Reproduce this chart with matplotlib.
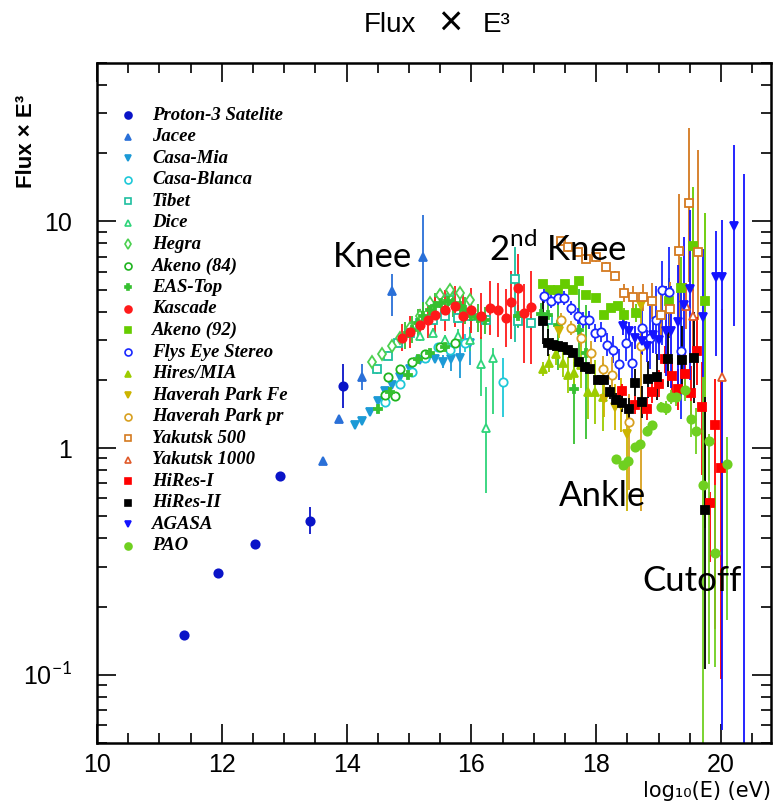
import numpy as np
import matplotlib
matplotlib.use("Agg")
import matplotlib.pyplot as plt
from matplotlib.ticker import FixedLocator, FixedFormatter, NullFormatter, MultipleLocator

plt.rcParams["font.family"] = ["Liberation Sans", "DejaVu Sans"]
plt.rcParams["mathtext.fontset"] = "custom"
plt.rcParams["mathtext.rm"] = "Lato"

# log10(E/eV), flux x E^3 (arbitrary units), error bars in decades: v or (down, up)
proton3_x = [11.39, 11.94, 12.53, 12.94, 13.41, 13.94]
proton3_y = [0.150, 0.282, 0.378, 0.757, 0.479, 1.87]
proton3_err = [0.01, 0.01, 0.01, 0.01, 0.06, (0.095, 0.10)]

jacee_x = [13.62, 13.87, 14.24, 14.72, 15.22]
jacee_y = [0.877, 1.34, 2.06, 4.91, 6.97]
jacee_err = [0.01, 0.01, 0.057, (0.109, 0.078), (0.313, 0.187)]

casamia_x = [14.13, 14.24, 14.37, 14.50, 14.61, 14.72, 14.85, 15.01, 15.17, 15.30,
             15.42, 15.55, 15.68, 15.81, 15.97]
casamia_y = [1.27, 1.32, 1.45, 1.62, 1.79, 1.90, 2.06, 2.23, 2.44, 2.51,
             2.46, 2.41, 2.46, 2.51, 2.92]
casamia_err = [0.015] * 11 + [0.03, (0.05, 0.04), (0.09, 0.08), (0.1, 0.07)]

casablanca_x = [14.61, 14.85, 15.04, 15.25, 15.46, 15.65, 15.89, 16.50]
casablanca_y = [1.60, 1.92, 2.16, 2.51, 2.78, 2.72, 2.92, 1.95]
casablanca_err = [0.015, 0.015, 0.015, 0.02, 0.02, 0.03, 0.04, (0.152, 0.109)]

tibet_x = [14.48, 14.66, 14.82, 15.01, 15.17, 15.38, 15.57, 15.78, 16.00, 16.24,
           16.69, 16.74, 16.96, 17.22]
tibet_y = [2.23, 2.56, 2.92, 3.23, 3.57, 3.68, 3.83, 3.75, 3.83, 3.68,
           5.60, 3.64, 3.55, 3.67]
tibet_err = [0.02] * 10 + [(0.28, 0.14), 0.03, 0.03, 0.03]

dice_x = [15.17, 15.38, 15.49, 15.57, 15.65, 15.78, 15.97, 16.16, 16.24, 16.34]
dice_y = [3.13, 3.23, 4.82, 3.00, 4.90, 3.13, 3.00, 2.34, 1.23, 2.51]
dice_err = [0.02, 0.02, 0.02, 0.02, 0.02, 0.03, 0.05, (0.14, 0.12), (0.29, 0.18), (0.25, 0.04)]

hegra_x = [14.40, 14.56, 14.72, 14.85, 15.01, 15.17, 15.33, 15.49, 15.65, 15.81, 15.97]
hegra_y = [2.39, 2.59, 2.83, 3.07, 3.39, 3.83, 4.36, 4.72, 4.96, 4.82, 4.49]
hegra_err = [0.02] * 11

akeno84_x = [14.61, 14.77, 14.66, 14.85, 15.04, 15.25, 15.49, 15.73]
akeno84_y = [1.72, 1.69, 2.06, 2.23, 2.39, 2.59, 2.78, 2.92]
akeno84_err = [0.015] * 8

eastop_x = [14.51, 14.69, 14.98, 15.14, 15.33, 15.57,
            14.93, 15.04, 15.14, 15.23, 15.33, 15.42, 15.52, 15.62, 15.71, 15.81,
            15.90, 16.00, 16.10, 16.22,
            16.74, 17.12, 17.22, 17.38, 17.65, 17.73, 17.84]
eastop_y = [1.49, 1.77, 2.10, 2.46, 2.64, 2.78,
            3.13, 3.33, 3.57, 3.83, 4.06, 4.23, 4.36, 4.45, 4.36, 4.23,
            4.06, 3.83, 3.75, 3.67,
            3.83, 3.90, 3.86, 3.49, 1.82, 3.33, 2.64]
eastop_err = ([0.015] * 6 + [0.06] * 14
              + [0.05, 0.05, 0.1, (0.2, 0.1), (0.24, 0.12), (0.17, 0.18), (0.38, 0.21)])

kascade_x = [14.88, 15.01, 15.17, 15.30, 15.42, 15.57, 15.73, 15.86, 16.00, 16.16,
             16.29, 16.43, 16.56, 16.64, 16.75, 16.85, 16.96]
kascade_y = [3.07, 3.26, 3.49, 3.67, 3.86, 4.06, 4.23, 3.83, 4.06, 3.83,
             4.14, 4.06, 3.75, 4.40, 5.11, 3.94, 4.19]
kascade_err = [0.06, 0.07, 0.07, 0.08, 0.08, 0.09, 0.09, 0.1, 0.1, 0.1,
               0.12, 0.12, 0.13, (0.16, 0.14), 0.15, (0.22, 0.13), (0.25, 0.16)]

akeno92_x = [17.14, 17.26, 17.38, 17.50, 17.62, 17.73, 17.84, 18.00, 18.13, 18.24,
             18.35, 18.45, 18.64, 19.17, 19.36, 19.55, 19.74]
akeno92_y = [5.32, 4.96, 4.96, 5.32, 4.96, 5.48, 4.72, 4.60, 3.86, 4.14,
             4.23, 3.86, 3.94, 4.45, 5.06, 7.78, 4.45]
akeno92_err = [0.015] * 11 + [0.03, 0.04, 0.1, (0.17, 0.14), (0.2, 0.26), (1.0, 0.39)]

flyseye_x = [17.17, 17.28, 17.38, 17.49, 17.60, 17.70, 17.79, 17.89, 17.98, 18.08,
             18.18, 18.27, 18.37, 18.48, 18.58, 18.74, 18.86, 18.96, 19.06, 19.17, 19.36]
flyseye_y = [4.68, 4.45, 4.60, 4.60, 4.14, 3.83, 3.67, 3.67, 3.23, 3.26,
             2.86, 2.72, 2.34, 2.90, 2.38, 3.40, 3.07, 3.67, 4.96, 4.86, 2.69]
flyseye_err = [0.03, 0.03, 0.03, 0.03, 0.03, 0.035, 0.035, 0.04, 0.04, 0.045,
               0.05, 0.06, 0.07, 0.08, 0.09, 0.12, 0.14, 0.15, (0.24, 0.13), 0.2, 0.3]

hiresmia_x = [17.14, 17.25, 17.36, 17.46, 17.55, 17.65, 17.76, 17.87, 17.98, 18.10]
hiresmia_y = [2.23, 2.37, 2.61, 2.37, 2.10, 2.14, 2.32, 1.77, 1.77, 1.68]
hiresmia_err = [0.03, 0.04, 0.05, 0.06, 0.08, 0.08, 0.1, 0.12, 0.14, 0.15]

hpfe_x = [17.41, 18.13, 18.30, 18.40, 18.50, 18.72]
hpfe_y = [3.29, 1.65, 1.52, 1.55, 1.15, 4.27]
hpfe_err = [0.03, 0.08, 0.1, 0.12, (0.34, 0.11), (0.35, 0.06)]

hppr_x = [17.44, 17.60, 17.76, 17.92, 18.10, 18.26, 18.53, 18.72]
hppr_y = [3.67, 3.39, 3.07, 2.64, 2.23, 2.10, 1.31, 2.83]
hppr_err = [0.03, 0.03, 0.04, 0.05, 0.06, 0.08, (0.3, 0.12), (0.73, 0.07)]

yak500_x = [17.44, 17.55, 17.70, 17.84, 18.00, 18.16, 18.30, 18.45, 18.59, 18.75,
            18.90, 19.04, 19.18, 19.33, 19.49, 19.63]
yak500_y = [8.19, 7.71, 7.33, 6.84, 6.95, 6.31, 5.77, 4.82, 4.63, 4.63,
            4.45, 3.86, 4.10, 7.41, 12.1, 7.33]
yak500_err = [0.02] * 7 + [0.04, 0.05, 0.06, 0.08, 0.1, 0.12,
                           (0.3, 0.25), (0.35, 0.33), (0.3, 0.45)]

yak1000_x = [19.44, 19.55, 20.02]
yak1000_y = [4.23, 3.83, 2.06]
yak1000_err = [0.1, (0.15, 0.12), (0.9, 0.3)]

hires1_x = [18.42, 18.62, 18.82, 18.90, 19.01, 19.10, 19.22, 19.31, 19.42, 19.52,
            19.62, 19.70, 19.82, 19.90, 20.00]
hires1_y = [1.79, 1.55, 1.49, 1.77, 1.92, 2.46, 2.08, 1.82, 2.13, 1.75,
            2.69, 1.52, 0.571, 1.27, 0.818]
hires1_err = [0.03, 0.04, 0.05, 0.05, 0.06, 0.06, 0.08, 0.09, 0.1, 0.12,
              0.15, (0.3, 0.2), (0.26, 0.05), (0.9, 0.2), (0.93, 0.4)]

hires2_x = [17.14, 17.22, 17.30, 17.38, 17.46, 17.54, 17.62, 17.73, 17.82, 17.90,
            18.03, 18.13, 18.22, 18.32, 18.42, 18.53, 18.62, 18.74, 18.83, 18.98,
            19.15, 19.38, 19.57, 19.74]
hires2_y = [3.64, 2.92, 2.86, 2.83, 2.78, 2.70, 2.64, 2.39, 2.27, 2.23,
            2.00, 2.00, 1.77, 1.63, 1.58, 1.49, 1.94, 1.60, 2.01, 2.06,
            2.46, 2.44, 2.51, 0.532]
hires2_err = [0.1, 0.06, 0.03, 0.02, 0.02, 0.02, 0.02, 0.02, 0.02, 0.02,
              0.02, 0.02, 0.03, 0.03, 0.04, 0.05, 0.06, 0.07, 0.08, 0.1,
              0.12, 0.15, 0.2, (0.7, 0.5)]

agasa_x = [18.43, 18.53, 18.62, 18.74, 18.82, 18.91, 19.01, 19.12, 19.20, 19.31,
           19.41, 19.50, 19.71, 19.92, 20.02, 20.21, 20.36]
agasa_y = [3.46, 3.29, 3.07, 2.98, 2.83, 3.16, 3.00, 3.29, 3.29, 3.60,
           4.27, 5.01, 3.79, 5.71, 5.71, 9.50, 0.03]
agasa_err = [0.04, 0.04, 0.05, 0.06, 0.07, 0.08, 0.09, 0.2, (0.25, 0.2), (0.3, 0.25),
             (0.3, 0.3), (0.4, 0.35), (0.5, 0.3), (0.35, 0.2), (2.0, 0.25), (0.44, 0.36),
             (0.0, 2.73)]

pao_x = [18.32, 18.43, 18.51, 18.62, 18.70, 18.82, 18.90, 19.04, 19.12, 19.20,
         19.28, 19.42, 19.52, 19.60, 19.71, 19.81, 19.90, 20.10]
pao_y = [0.896, 0.843, 0.880, 1.01, 1.04, 1.19, 1.26, 1.52, 1.50, 1.68,
         1.68, 1.81, 1.34, 1.19, 0.684, 1.07, 0.343, 0.851]
pao_err = [0.01, 0.01, 0.01, 0.015, 0.015, 0.02, 0.02, 0.02, 0.03, 0.03,
           0.04, 0.05, 0.08, 0.1, (1.5, 0.48), (0.98, 0.035), (0.5, 0.3), (0.69, 0.12)]

series = [
    ("Proton-3 Satelite", proton3_x, proton3_y, proton3_err, "o", "#0a14c8", True),
    ("Jacee", jacee_x, jacee_y, jacee_err, "^", "#2a70d8", True),
    ("Casa-Mia", casamia_x, casamia_y, casamia_err, "v", "#1c9ad6", True),
    ("Casa-Blanca", casablanca_x, casablanca_y, casablanca_err, "o", "#1ec8d8", False),
    ("Tibet", tibet_x, tibet_y, tibet_err, "s", "#1ebfa0", False),
    ("Dice", dice_x, dice_y, dice_err, "^", "#2ed47a", False),
    ("Hegra", hegra_x, hegra_y, hegra_err, "d", "#4cd050", False),
    ("Akeno (84)", akeno84_x, akeno84_y, akeno84_err, "o", "#1fb41f", False),
    ("EAS-Top", eastop_x, eastop_y, eastop_err, "P", "#36c030", True),
    ("Kascade", kascade_x, kascade_y, kascade_err, "o", "#ff1a1a", True),
    ("Akeno (92)", akeno92_x, akeno92_y, akeno92_err, "s", "#66cc00", True),
    ("Flys Eye Stereo", flyseye_x, flyseye_y, flyseye_err, "o", "#1a28ff", False),
    ("Hires/MIA", hiresmia_x, hiresmia_y, hiresmia_err, "^", "#9ccc00", True),
    ("Haverah Park Fe", hpfe_x, hpfe_y, hpfe_err, "v", "#ccb400", True),
    ("Haverah Park pr", hppr_x, hppr_y, hppr_err, "o", "#d8a020", False),
    ("Yakutsk 500", yak500_x, yak500_y, yak500_err, "s", "#d47a20", False),
    ("Yakutsk 1000", yak1000_x, yak1000_y, yak1000_err, "^", "#e05a2a", False),
    ("HiRes-I", hires1_x, hires1_y, hires1_err, "s", "#ff0000", True),
    ("HiRes-II", hires2_x, hires2_y, hires2_err, "s", "#000000", True),
    ("AGASA", agasa_x, agasa_y, agasa_err, "v", "#1414ff", True),
    ("PAO", pao_x, pao_y, pao_err, "o", "#6fd020", True),
]

notes = [("Knee", 14.42, 7.0), ("2$^{\\mathrm{nd}}$ Knee", 17.38, 7.6),
         ("Ankle", 18.10, 0.617), ("Cutoff", 19.54, 0.258)]


def bars(y, err):
    lo, hi = [], []
    for v, e in zip(y, err):
        d_lo, d_hi = (e, e) if np.isscalar(e) else e
        lo.append(v - v * 10 ** -d_lo)
        hi.append(v * 10 ** d_hi - v)
    return [lo, hi]


W, H = 774, 802
fig = plt.figure(figsize=(W / 100, H / 100), dpi=100)
# frame: left 97, right 771, top 63, bottom 743 (pixels)
ax = fig.add_axes([97 / W, 1 - 743 / H, 674 / W, 680 / H])

for name, x, y, err, mk, col, filled in series:
    ax.errorbar(x, y, yerr=bars(y, err), fmt=mk, color=col, ms=6,
                mfc=col if filled else "white", mec=col, mew=1.3,
                elinewidth=1.3, capsize=0, linestyle="none")

# legend in the ROOT style: marker column plus bold italic serif labels
row0, step = 1 - (115 - 63) / 680, 21.55 / 680
for i, (name, x, y, err, mk, col, filled) in enumerate(series):
    yy = row0 - i * step
    ax.plot([0.046], [yy], transform=ax.transAxes, marker=mk, linestyle="none",
            color=col, ms=5, mfc=col if filled else "white", mec=col, mew=1.2)
    ax.text(0.0816, yy, name, transform=ax.transAxes, va="center", ha="left",
            family="Liberation Serif", style="italic", weight="bold", fontsize=13.5)

for txt, x, y in notes:
    ax.text(x, y, txt, ha="center", va="center", fontsize=25, family="Lato")

ax.set_yscale("log")
ax.set_xlim(10, 20.8)
ax.set_ylim(0.05, 50)

ax.xaxis.set_major_locator(MultipleLocator(2))
ax.xaxis.set_minor_locator(MultipleLocator(0.5))
ax.yaxis.set_major_locator(FixedLocator([0.1, 1, 10]))
ax.yaxis.set_major_formatter(FixedFormatter(["10$^{-1}$", "1", "10"]))
ax.yaxis.set_minor_locator(FixedLocator([k * 10.0 ** p for p in (-2, -1, 0, 1)
                                         for k in range(2, 10)]))
ax.yaxis.set_minor_formatter(NullFormatter())
ax.tick_params(which="both", direction="in", top=True, right=True, width=1.2,
               labelsize=18)
ax.tick_params(which="major", length=14)
ax.tick_params(which="minor", length=7)
ax.tick_params(axis="x", which="major", pad=7)
ax.tick_params(axis="y", which="major", pad=18)
for sp in ax.spines.values():
    sp.set_linewidth(1.8)

# title with a wide multiplication cross
fig.text(416 / W, 1 - 25 / H, "Flux", ha="right", va="center", fontsize=20)
fig.text(450 / W, 1 - 25 / H, "×", ha="center", va="center", fontsize=30,
         weight="light")
fig.text(483 / W, 1 - 25 / H, "E³", ha="left", va="center", fontsize=20)

fig.text(27 / W, 1 - 95 / H, "Flux × E³", ha="center", va="top", rotation=90,
         fontsize=16, weight="bold")
fig.text(771 / W, 1 - 791 / H, "log₁₀(E) (eV)", ha="right", va="center",
         fontsize=15, family="DejaVu Sans")

fig.savefig("out.png", dpi=100)
